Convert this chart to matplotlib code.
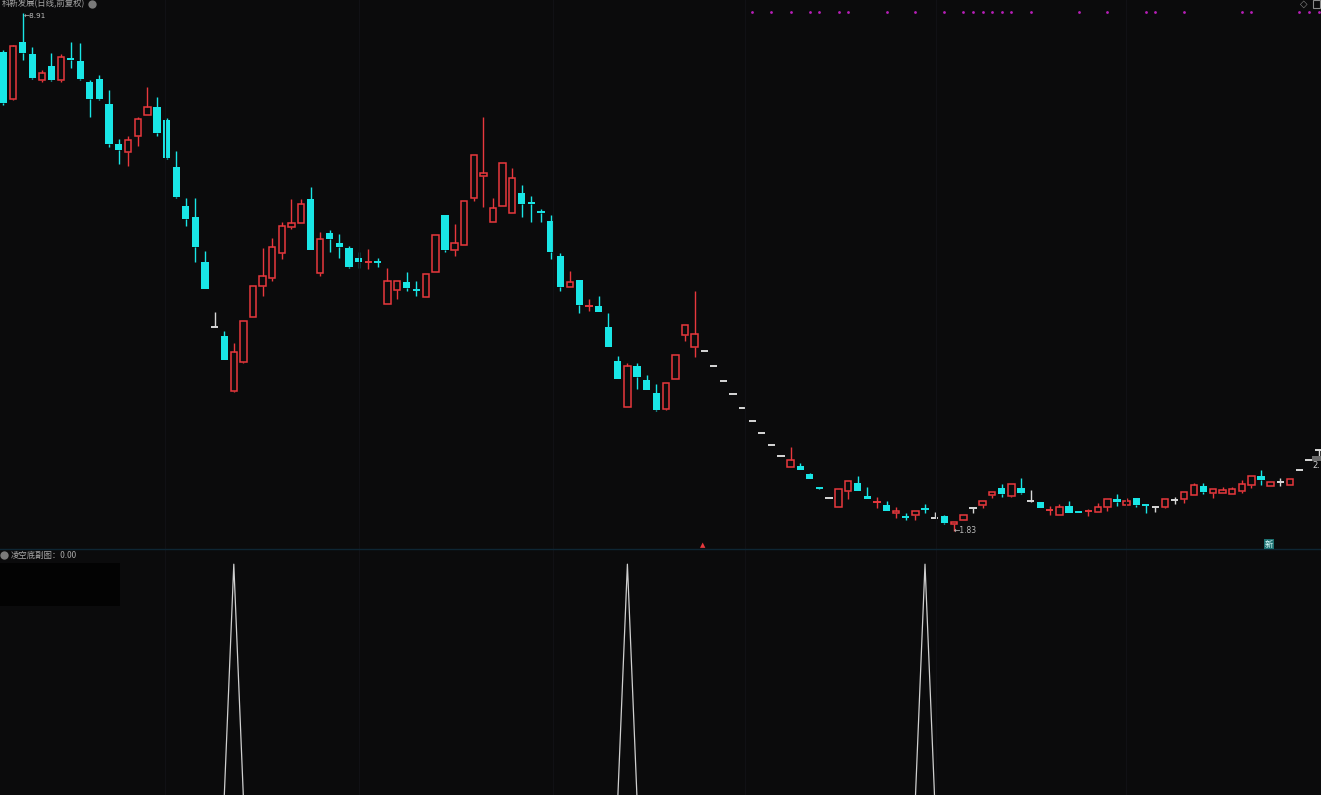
import numpy as np
import matplotlib
matplotlib.use("Agg")
import matplotlib.pyplot as plt
from matplotlib.patches import Rectangle
from matplotlib.lines import Line2D

# 科新发展 日线 前复权
opens = [
    8.37, 7.73, 8.51, 8.35, 7.99, 8.18, 7.99, 8.29, 8.25, 7.96,
    8.00, 7.66, 7.12, 7.01, 7.23, 7.51, 7.62, 7.44, 6.80, 6.27,
    6.12, 5.50, 4.62, 4.49, 3.74, 4.14, 4.75, 5.18, 5.29, 5.63,
    5.98, 6.04, 6.37, 5.35, 5.90, 5.76, 5.70, 5.56, 5.50, 5.51,
    4.93, 5.12, 5.23, 5.13, 5.03, 5.37, 6.15, 5.67, 5.74, 6.38,
    6.68, 6.05, 6.27, 6.17, 6.45, 6.32, 6.19, 6.06, 5.59, 5.16,
    5.26, 4.90, 4.90, 4.62, 4.15, 3.52, 4.08, 3.89, 3.72, 3.50,
    3.91, 4.51, 4.34, 4.29, 4.08, 3.88, 3.70, 3.51, 3.33, 3.17,
    3.00, 2.85, 2.70, 2.72, 2.61, 2.42, 2.28, 2.16, 2.38, 2.49,
    2.31, 2.22, 2.19, 2.08, 2.03, 2.05, 2.14, 2.01, 2.03, 1.92,
    1.98, 2.14, 2.19, 2.32, 2.42, 2.31, 2.42, 2.24, 2.23, 2.11,
    2.05, 2.17, 2.09, 2.10, 2.09, 2.16, 2.27, 2.19, 2.28, 2.19,
    2.16, 2.16, 2.25, 2.27, 2.32, 2.44, 2.35, 2.35, 2.34, 2.38,
    2.46, 2.58, 2.44, 2.50, 2.46, 2.66, 2.80, 2.94,
]
highs = [
    8.40, 8.47, 8.91, 8.44, 8.13, 8.36, 8.35, 8.51, 8.50, 7.99,
    8.06, 7.85, 7.19, 7.23, 7.49, 7.90, 7.76, 7.47, 7.02, 6.38,
    6.38, 5.65, 4.82, 4.56, 4.40, 4.70, 5.18, 5.69, 5.83, 6.05,
    6.37, 6.37, 6.53, 5.91, 5.94, 5.89, 5.72, 5.64, 5.68, 5.56,
    5.42, 5.25, 5.37, 5.25, 5.34, 5.87, 6.15, 6.02, 6.34, 6.97,
    7.49, 6.38, 6.86, 6.79, 6.56, 6.41, 6.23, 6.15, 5.63, 5.38,
    5.26, 5.00, 5.04, 4.81, 4.22, 4.12, 4.12, 3.96, 3.84, 3.85,
    4.23, 4.64, 5.11, 4.29, 4.08, 3.88, 3.70, 3.51, 3.33, 3.17,
    3.00, 2.85, 2.98, 2.76, 2.62, 2.43, 2.28, 2.40, 2.51, 2.58,
    2.43, 2.29, 2.24, 2.16, 2.08, 2.10, 2.20, 2.09, 2.05, 1.95,
    2.05, 2.14, 2.24, 2.36, 2.47, 2.47, 2.55, 2.39, 2.23, 2.17,
    2.20, 2.24, 2.10, 2.13, 2.21, 2.27, 2.34, 2.28, 2.28, 2.19,
    2.17, 2.27, 2.29, 2.36, 2.49, 2.49, 2.40, 2.43, 2.43, 2.53,
    2.58, 2.66, 2.50, 2.55, 2.54, 2.66, 2.80, 2.94,
]
lows = [
    7.65, 7.72, 8.26, 8.00, 7.96, 7.98, 7.96, 8.16, 7.99, 7.49,
    7.72, 7.08, 6.84, 6.82, 7.09, 7.51, 7.23, 6.91, 6.38, 6.00,
    5.50, 5.14, 4.62, 4.17, 3.73, 4.12, 4.75, 5.04, 5.25, 5.55,
    5.96, 6.04, 5.67, 5.31, 5.64, 5.56, 5.42, 5.42, 5.41, 5.44,
    4.93, 5.00, 5.11, 5.04, 5.03, 5.37, 5.64, 5.59, 5.74, 6.34,
    6.26, 6.05, 6.27, 6.17, 6.12, 6.05, 6.05, 5.55, 5.11, 5.16,
    4.81, 4.84, 4.82, 4.34, 3.91, 3.52, 3.77, 3.76, 3.47, 3.48,
    3.91, 4.43, 4.21, 4.29, 4.08, 3.88, 3.70, 3.51, 3.33, 3.17,
    3.00, 2.85, 2.70, 2.66, 2.54, 2.40, 2.28, 2.16, 2.27, 2.38,
    2.27, 2.14, 2.10, 2.01, 1.98, 1.98, 2.08, 2.01, 1.93, 1.83,
    1.98, 2.08, 2.14, 2.28, 2.29, 2.29, 2.34, 2.23, 2.14, 2.05,
    2.05, 2.08, 2.08, 2.03, 2.09, 2.10, 2.17, 2.19, 2.16, 2.08,
    2.09, 2.14, 2.20, 2.21, 2.32, 2.34, 2.28, 2.35, 2.34, 2.35,
    2.42, 2.46, 2.44, 2.44, 2.46, 2.66, 2.80, 2.85,
]
closes = [
    7.68, 8.46, 8.36, 8.02, 8.09, 7.99, 8.31, 8.26, 8.00, 7.73,
    7.73, 7.12, 7.03, 7.17, 7.46, 7.62, 7.27, 6.93, 6.39, 6.09,
    5.71, 5.14, 4.62, 4.17, 4.28, 4.70, 5.18, 5.31, 5.71, 6.00,
    6.04, 6.30, 5.67, 5.82, 5.82, 5.71, 5.44, 5.50, 5.52, 5.50,
    5.25, 5.25, 5.15, 5.12, 5.34, 5.87, 5.67, 5.76, 6.34, 6.97,
    6.72, 6.24, 6.86, 6.65, 6.30, 6.30, 6.18, 5.64, 5.16, 5.23,
    4.92, 4.91, 4.82, 4.34, 3.91, 4.08, 3.93, 3.76, 3.48, 3.85,
    4.23, 4.64, 4.52, 4.29, 4.08, 3.88, 3.70, 3.51, 3.33, 3.17,
    3.00, 2.85, 2.80, 2.66, 2.54, 2.41, 2.28, 2.40, 2.51, 2.38,
    2.27, 2.23, 2.10, 2.10, 2.02, 2.10, 2.13, 2.01, 1.94, 1.95,
    2.05, 2.14, 2.24, 2.36, 2.34, 2.47, 2.35, 2.24, 2.15, 2.12,
    2.16, 2.08, 2.08, 2.11, 2.16, 2.27, 2.23, 2.24, 2.19, 2.18,
    2.16, 2.27, 2.25, 2.36, 2.46, 2.36, 2.40, 2.39, 2.40, 2.47,
    2.58, 2.53, 2.50, 2.50, 2.54, 2.66, 2.80, 2.94,
]

# 顶部紫色信号点 / 副图信号日
dot_days = [78, 80, 82, 84, 85, 87, 88, 92, 95, 98, 100, 101, 102, 103, 104,
            105, 107, 112, 115, 119, 120, 123, 129, 130, 135, 136, 137]
signal_days = [24, 65, 96]

title = "科新发展(日线,前复权)"
sub_title = "凌空底副图：0.00"
last_tag = "2."

BG = "#0b0b0c"
RED = "#e8383d"
CYAN = "#19e6e6"
WHITE = "#d8d8d8"
CJK = ["Noto Sans CJK SC", "DejaVu Sans"]

W, H = 1321, 795
n = len(opens)
x = np.arange(n)

fig = plt.figure(figsize=(W / 100, H / 100), dpi=100, facecolor=BG)
ax = fig.add_axes([0, 1 - 548 / H, 1, 548 / H])
ax2 = fig.add_axes([0, 0, 1, 246 / H])
for a in (ax, ax2):
    a.set_facecolor(BG)
    a.set_xlim(-0.354, 137.25)
    a.set_xticks([])
    a.set_yticks([])
    for s in a.spines.values():
        s.set_visible(False)
ax.set_ylim(1.597, 9.0835)
ax2.set_ylim(0.012, 1.065)   # zero level sits just below the panel edge

# faint vertical grid
for gx in [165, 359, 553, 745, 936, 1126]:
    fig.add_artist(Line2D([gx / W, gx / W], [0, 1], color="#111115", lw=0.8))

# candles
bw = 0.75
for i in range(n):
    o, h, l, c = opens[i], highs[i], lows[i], closes[i]
    lo, hi = min(o, c), max(o, c)
    if c > o:
        col = RED
    elif c < o:
        col = CYAN
    else:
        col = WHITE
    if h > hi:
        ax.vlines(i, hi, h, color=col, lw=1.0)
    if l < lo:
        ax.vlines(i, l, lo, color=col, lw=1.0)
    if hi - lo < 0.02:
        ax.hlines((o + c) / 2, i - bw / 2, i + bw / 2, color=col, lw=1.4)
    elif col == RED:
        ax.add_patch(Rectangle((i - bw / 2 + 0.05, lo), bw - 0.1, hi - lo,
                               facecolor=BG, edgecolor=RED, lw=1.1))
    else:
        ax.add_patch(Rectangle((i - bw / 2, lo), bw, hi - lo,
                               facecolor=CYAN, edgecolor="none"))

# max / min labels
i_max = int(np.argmax(highs))
i_min = int(np.argmin(lows))
ax.annotate("←%.2f" % highs[i_max], (i_max, highs[i_max]), xytext=(0.5, -2.5),
            textcoords="offset points", color="#bdbdbd", fontsize=5.2, va="center", ha="left")
ax.annotate("←%.2f" % lows[i_min], (i_min, lows[i_min]), xytext=(0, 0),
            textcoords="offset points", color="#bdbdbd", fontsize=5.5, va="center", ha="left")

# top magenta dots
ax.plot(dot_days, [0.978] * len(dot_days), "o", color="#b81eb8", ms=2.0, mew=0,
        transform=ax.get_xaxis_transform(), clip_on=False)

# lower indicator
sig = np.zeros(n)
sig[signal_days] = 1.0
ax2.plot(x, sig, color="#cfcfcf", lw=0.9)
ax2.add_patch(Rectangle((0, 189 / 246), 120 / W, 43 / 246, transform=ax2.transAxes,
                        facecolor="#030303", edgecolor="none"))

# separator between panels
fig.add_artist(Line2D([0, 1], [1 - 549 / H, 1 - 549 / H], color="#0e2634", lw=1.0))


def px(xp, yp):
    return xp / W, 1 - yp / H


# last price tag at right edge
fig.add_artist(Rectangle(px(1312, 461), 9 / W, 5 / H, transform=fig.transFigure,
                         facecolor="#6a6a6a", edgecolor="none"))
fig.text(*px(1320, 465), last_tag, color="#d0d0d0", fontsize=6, va="center", ha="right")

fig.text(*px(2, 4), title, color="#a8a8a8", fontsize=6, family=CJK, va="center", ha="left")
fig.add_artist(Line2D([92 / W], [1 - 4 / H], marker="o", ms=6, color="#7a7a7a", mew=0))
fig.text(*px(11, 555), sub_title, color="#a8a8a8", fontsize=6, family=CJK, va="center", ha="left")
fig.add_artist(Line2D([4 / W], [1 - 555 / H], marker="o", ms=6, color="#7a7a7a", mew=0))

# small markers at bottom of the main panel
fig.text(*px(703, 545), "▲", color=RED, fontsize=5, va="center", ha="center")
fig.text(*px(1269, 544), "新", color="#e0ffff", fontsize=6, family=CJK, va="center", ha="center",
         bbox=dict(boxstyle="square,pad=0.1", facecolor="#1c6f70", edgecolor="none"))

# top right icons
fig.text(*px(1304, 4), "◇", color="#8a8a8a", fontsize=7, va="center", ha="center")
fig.add_artist(Rectangle(px(1313, 8), 7 / W, 8 / H, transform=fig.transFigure,
                         facecolor="none", edgecolor="#8a8a8a", lw=0.8))

fig.savefig("out.png", dpi=100, facecolor=BG)
